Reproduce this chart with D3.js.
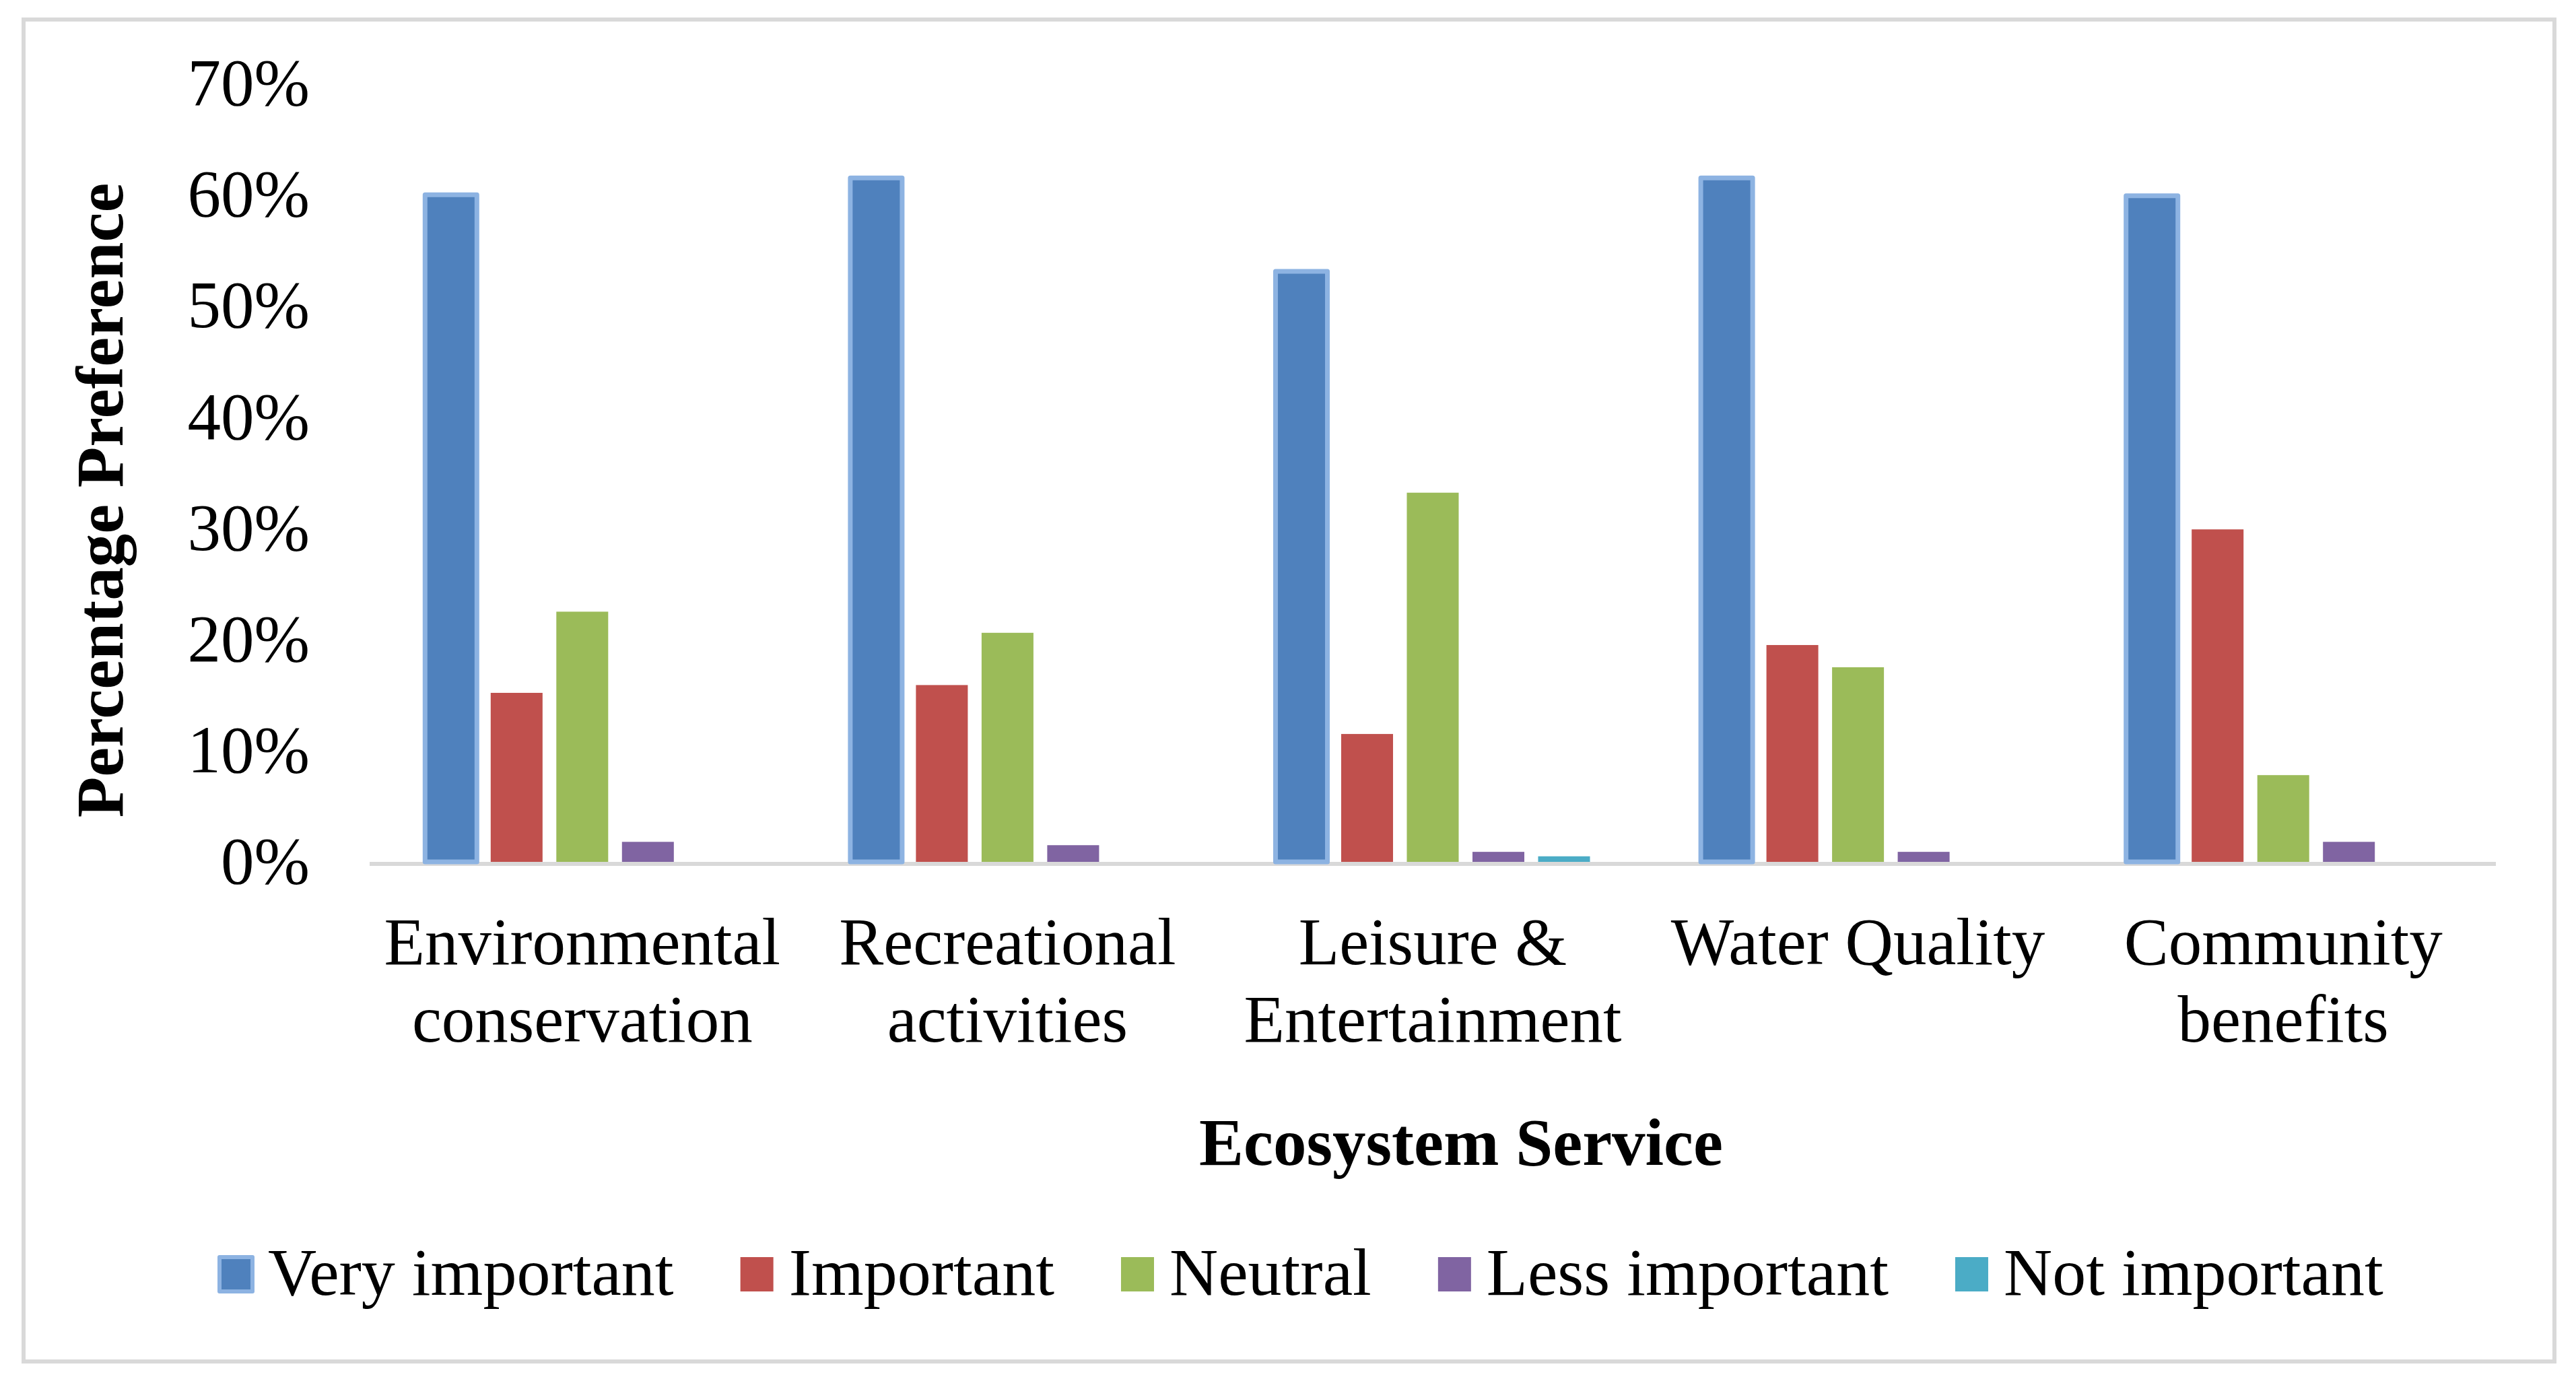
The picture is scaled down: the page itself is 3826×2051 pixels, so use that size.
<!DOCTYPE html>
<html>
<head>
<meta charset="utf-8">
<script src="https://cdnjs.cloudflare.com/ajax/libs/d3/7.8.5/d3.min.js"></script>
<style>
  body { margin: 0; background: white; }
  text { font-family: "Liberation Serif", "Times New Roman", serif; fill: black; }
</style>
</head>
<body>
<div id="main"></div>
<script>
var categories = [
  ["Environmental", "conservation"],
  ["Recreational", "activities"],
  ["Leisure &", "Entertainment"],
  ["Water Quality"],
  ["Community", "benefits"]
];
var seriesNames = ["Very important", "Important", "Neutral", "Less important", "Not important"];
var veryImportant = [0.600, 0.615, 0.531, 0.615, 0.599];
var important     = [0.152, 0.159, 0.115, 0.195, 0.299];
var neutral       = [0.225, 0.206, 0.332, 0.175, 0.078];
var lessImportant = [0.018, 0.015, 0.009, 0.009, 0.018];
var notImportant  = [0, 0, 0.005, 0, 0];
var yTicks = [0, 0.1, 0.2, 0.3, 0.4, 0.5, 0.6, 0.7];

var seriesValues = [veryImportant, important, neutral, lessImportant, notImportant];
var colors = ["#4f81bd", "#c0504d", "#9bbb59", "#8064a2", "#4bacc6"];

var width = 3826, height = 2051;
var plotLeft = 549, plotRight = 3707, plotTop = 124, plotBase = 1280;

var svg = d3.select("#main")
  .append("svg")
  .attr("width", width)
  .attr("height", height)
  .style("background-color", "white");

// chart frame
svg.append("rect")
  .attr("x", 35).attr("y", 29)
  .attr("width", 3759).attr("height", 1993)
  .attr("fill", "white")
  .attr("stroke", "#d9d9d9")
  .attr("stroke-width", 6);

var y = d3.scaleLinear().domain([0, 0.7]).range([plotBase, plotTop]);
var x0 = d3.scaleBand().domain(d3.range(categories.length)).range([plotLeft, plotRight]);
var x1 = d3.scaleBand().domain(d3.range(seriesNames.length))
  .range([0, x0.bandwidth()])
  .paddingInner(0.21)
  .paddingOuter(0.844);

// y axis labels
var yAxis = svg.append("g")
  .attr("transform", "translate(" + plotLeft + ",0)")
  .call(d3.axisLeft(y).tickValues(yTicks).tickFormat(d3.format(".0%")).tickSize(0).tickPadding(89));
yAxis.select(".domain").remove();
yAxis.selectAll("text")
  .style("font-family", "'Liberation Serif', serif")
  .style("font-size", "99px")
  .attr("fill", "black");

// x axis line
svg.append("line")
  .attr("x1", plotLeft).attr("x2", plotRight)
  .attr("y1", plotBase + 3).attr("y2", plotBase + 3)
  .attr("stroke", "#d9d9d9")
  .attr("stroke-width", 6);

// bars
var groups = svg.selectAll("g.cat")
  .data(categories)
.enter().append("g")
  .attr("class", "cat")
  .attr("transform", function(d, i) { return "translate(" + x0(i) + ",0)"; });

groups.selectAll("rect")
  .data(function(d, i) { return seriesValues.map(function(s, k) { return {k: k, v: s[i]}; }).filter(function(d) { return d.v > 0; }); })
.enter().append("rect")
  .attr("x", function(d) { return x1(d.k); })
  .attr("y", function(d) { return y(d.v); })
  .attr("width", x1.bandwidth())
  .attr("height", function(d) { return plotBase - y(d.v); })
  .attr("fill", function(d) { return colors[d.k]; })
  .attr("stroke", function(d) { return d.k == 0 ? "#8db3e2" : "none"; })
  .attr("stroke-width", 7)
  .attr("stroke-linejoin", "round");

// category labels
groups.append("text")
  .attr("text-anchor", "middle")
  .style("font-size", "99px")
  .selectAll("tspan")
  .data(function(d) { return d; })
.enter().append("tspan")
  .attr("x", x0.bandwidth() / 2)
  .attr("y", function(d, ix) { return 1432 + ix * 115; })
  .text(function(d) { return d; });

// axis titles
svg.append("text")
  .attr("x", 2170).attr("y", 1730)
  .attr("text-anchor", "middle")
  .style("font-size", "99px")
  .style("font-weight", "bold")
  .text("Ecosystem Service");

svg.append("text")
  .attr("transform", "translate(182,743) rotate(-90)")
  .attr("text-anchor", "middle")
  .style("font-size", "99px")
  .style("font-weight", "bold")
  .text("Percentage Preference");

// legend
var lx = 326;
seriesNames.forEach(function(name, k) {
  var sw = svg.append("rect")
    .attr("x", lx).attr("y", 1867)
    .attr("width", 49).attr("height", 51)
    .attr("fill", colors[k]);
  if (k == 0) sw.attr("stroke", "#8db3e2").attr("stroke-width", 6).attr("stroke-linejoin", "round");
  var t = svg.append("text")
    .attr("x", lx + 72).attr("y", 1923)
    .style("font-size", "100px")
    .text(name);
  lx = lx + 72 + t.node().getComputedTextLength() + 99;
});
</script>
</body>
</html>
